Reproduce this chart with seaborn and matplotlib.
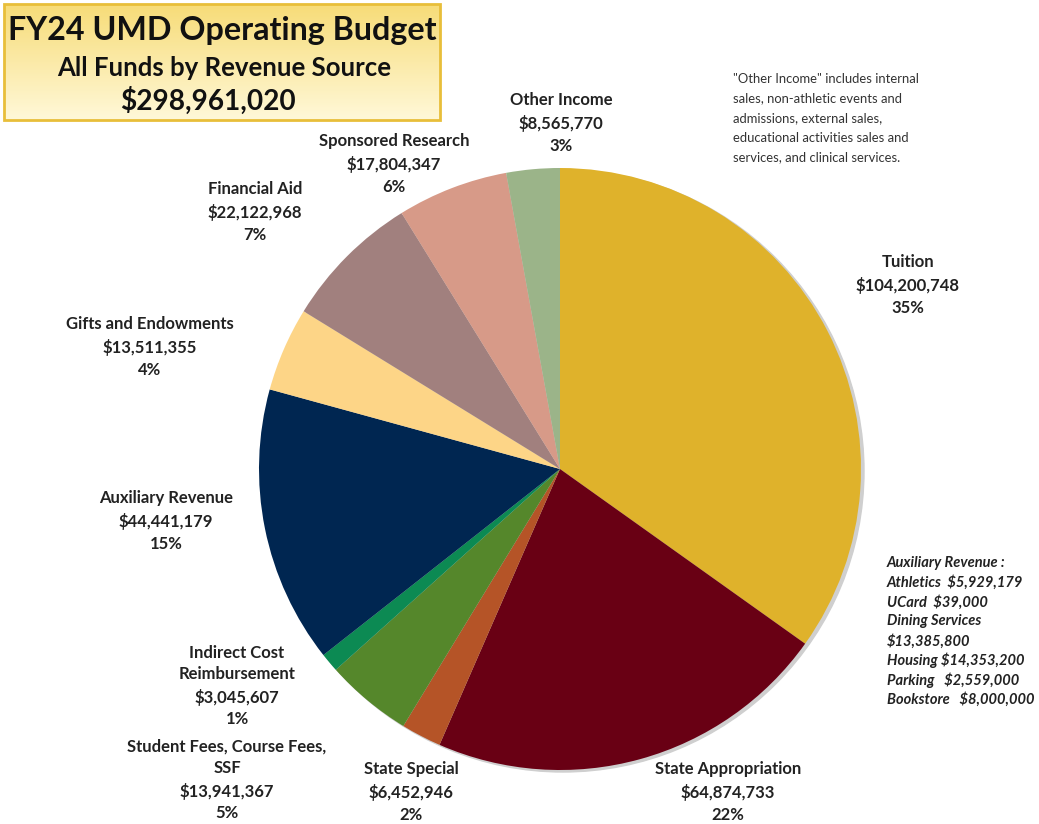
import numpy as np
import matplotlib.pyplot as plt
import seaborn as sns
from matplotlib.patches import Rectangle
from matplotlib.colors import LinearSegmentedColormap

sources = ['Tuition', 'State Appropriation', 'State Special',
           'Student Fees, Course Fees,\nSSF', 'Indirect Cost\nReimbursement',
           'Auxiliary Revenue', 'Gifts and Endowments', 'Financial Aid',
           'Sponsored Research', 'Other Income']
amounts = [104200748, 64874733, 6452946, 13941367, 3045607,
           44441179, 13511355, 22122968, 17804347, 8565770]
# percentages as printed on the chart
shown_pct = [35, 22, 2, 5, 1, 15, 4, 7, 6, 3]
colors = ['#DFB22B', '#690014', '#B55427', '#55872B', '#0C8A53',
          '#002651', '#FDD587', '#A1807E', '#D79A88', '#9BB489']
# label centres in image pixels (x, y from top)
label_xy = [(908, 285), (728, 792), (411, 792), (227, 780), (237, 686),
            (166, 521), (150, 347), (255, 212), (394, 164), (561, 123)]

aux_note = ['Auxiliary Revenue :', 'Athletics  $5,929,179', 'UCard  $39,000',
            'Dining Services', '$13,385,800', 'Housing $14,353,200',
            'Parking   $2,559,000', 'Bookstore   $8,000,000']
other_note = ['"Other Income" includes internal', 'sales, non-athletic events and',
              'admissions, external sales,', 'educational activities sales and',
              'services, and clinical services.']

sns.set_theme(style='white')
plt.rcParams['font.family'] = ['Lato', 'DejaVu Sans']

W, H = 1039, 824
fig = plt.figure(figsize=(W / 100, H / 100), dpi=100)
ax = fig.add_axes([0, 0, 1, 1])

# subtle shadow then the pie
ax.add_patch(plt.Circle((563, H - 471), 301, color='#cfcfcf', zorder=0))
ax.pie(amounts, colors=colors, startangle=90, counterclock=False,
       center=(560, H - 469), radius=301, wedgeprops=dict(linewidth=0))

total = sum(amounts)
for name, val, p, (x, y) in zip(sources, amounts, shown_pct, label_xy):
    txt = f'{name}\n${val:,.0f}\n{p}%'
    ax.text(x, H - y, txt, ha='center', va='center', fontsize=12,
            fontweight='bold', color='#222222', linespacing=1.45)

# title box with gradient
grad = LinearSegmentedColormap.from_list('g', ['#FFF8D8', '#F7DC78'])
ax.imshow(np.linspace(0, 1, 100).reshape(-1, 1), cmap=grad, aspect='auto',
          extent=(4, 440, H - 120, H - 4), origin='lower', zorder=2)
ax.add_patch(Rectangle((4, H - 120), 436, 116, fill=False,
                       edgecolor='#E8BE3A', linewidth=2, zorder=3))
ax.text(222, H - 30, 'FY24 UMD Operating Budget', ha='center', va='center',
        fontsize=23.2, fontweight='bold', color='#111111', zorder=4)
ax.text(224, H - 68, 'All Funds by Revenue Source', ha='center', va='center',
        fontsize=18.5, fontweight='bold', color='#111111', zorder=4)
ax.text(208, H - 101, f'${total:,.0f}', ha='center', va='center',
        fontsize=20.2, fontweight='bold', color='#111111', zorder=4)

for i, line in enumerate(other_note):
    ax.text(733, H - (79 + i * 19.5), line, ha='left', va='center',
            fontsize=9.4, color='#333333')

for i, line in enumerate(aux_note):
    ax.text(887, H - (563 + i * 19.5), line, ha='left', va='center',
            fontsize=10.5, fontweight='bold', fontstyle='italic', color='#222222')

ax.set_xlim(0, W)
ax.set_ylim(0, H)
ax.set_aspect('equal')
ax.axis('off')

fig.savefig('out.png', dpi=100)
